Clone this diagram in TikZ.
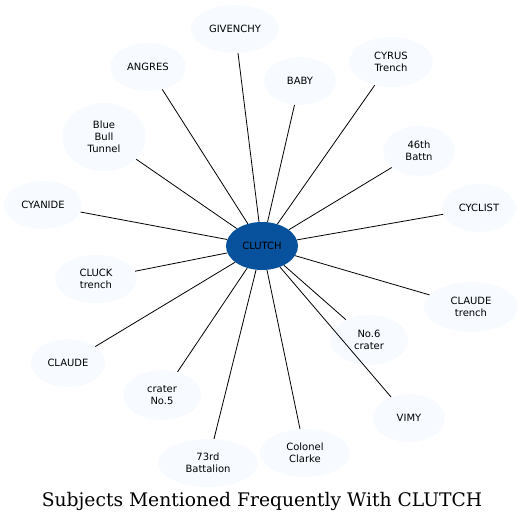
\documentclass[tikz,border=0pt]{standalone}
\usepackage{fontspec}
\newfontfamily\labelfont{DejaVu Sans}
\newfontfamily\titlefont{DejaVu Serif}
\usetikzlibrary{shapes.geometric}
\definecolor{hubblue}{HTML}{08519C}
\definecolor{leafblue}{HTML}{F7FBFF}

\begin{document}
\begin{tikzpicture}[x=1pt, y=-1pt,
        leaf/.style={ellipse, fill=leafblue, inner sep=0pt, align=center, font=\labelfont\fontsize{10}{12}\selectfont},
        hub/.style={ellipse, fill=hubblue, inner sep=0pt, align=center, font=\labelfont\fontsize{10}{12}\selectfont},
        link/.style={draw=black, line width=0.8pt}
    ]
        \useasboundingbox (0,0) rectangle (523,523);

        \node[hub, minimum width=72pt, minimum height=48pt] (clutch) at (262,246) {CLUTCH};

        % ring of subjects, clockwise from the top
        \node[leaf, minimum width=88pt, minimum height=48pt] (givenchy) at (235,29) {GIVENCHY};
        \node[leaf, minimum width=72pt, minimum height=48pt] (baby) at (300,81) {BABY};
        \node[leaf, minimum width=84pt, minimum height=50pt] (cyrus) at (391,62) {CYRUS\\Trench};
        \node[leaf, minimum width=72pt, minimum height=50pt] (battn) at (419,151) {46th\\Battn};
        \node[leaf, minimum width=74pt, minimum height=48pt] (cyclist) at (479,208) {CYCLIST};
        \node[leaf, minimum width=94pt, minimum height=50pt] (claudetr) at (471,307) {CLAUDE\\trench};
        \node[leaf, minimum width=78pt, minimum height=50pt] (crater6) at (369,340) {No.6\\crater};
        \node[leaf, minimum width=72pt, minimum height=48pt] (vimy) at (409,418) {VIMY};
        \node[leaf, minimum width=90pt, minimum height=48pt] (clarke) at (305,453) {Colonel\\Clarke};
        \node[leaf, minimum width=100pt, minimum height=48pt] (batt73) at (208,463) {73rd\\Battalion};
        \node[leaf, minimum width=78pt, minimum height=50pt] (crater5) at (162,395) {crater\\No.5};
        \node[leaf, minimum width=74pt, minimum height=48pt] (claude) at (68,363) {CLAUDE};
        \node[leaf, minimum width=82pt, minimum height=48pt] (cluck) at (96,279) {CLUCK\\trench};
        \node[leaf, minimum width=78pt, minimum height=48pt] (cyanide) at (43,205) {CYANIDE};
        \node[leaf, minimum width=84pt, minimum height=68pt] (bluebull) at (104,137) {Blue\\Bull\\Tunnel};
        \node[leaf, minimum width=76pt, minimum height=48pt] (angres) at (148,67) {ANGRES};

        \draw[link] (clutch) -- (givenchy);
        \draw[link] (clutch) -- (baby);
        \draw[link] (clutch) -- (cyrus);
        \draw[link] (clutch) -- (battn);
        \draw[link] (clutch) -- (cyclist);
        \draw[link] (clutch) -- (claudetr);
        \draw[link] (clutch) -- (crater6);
        \draw[link] (clutch) -- (vimy);
        \draw[link] (clutch) -- (clarke);
        \draw[link] (clutch) -- (batt73);
        \draw[link] (clutch) -- (crater5);
        \draw[link] (clutch) -- (claude);
        \draw[link] (clutch) -- (cluck);
        \draw[link] (clutch) -- (cyanide);
        \draw[link] (clutch) -- (bluebull);
        \draw[link] (clutch) -- (angres);

        \node[font=\titlefont\fontsize{18.7}{22}\selectfont] (title) at (262,501) {Subjects Mentioned Frequently With CLUTCH};
    \end{tikzpicture}
\end{document}
